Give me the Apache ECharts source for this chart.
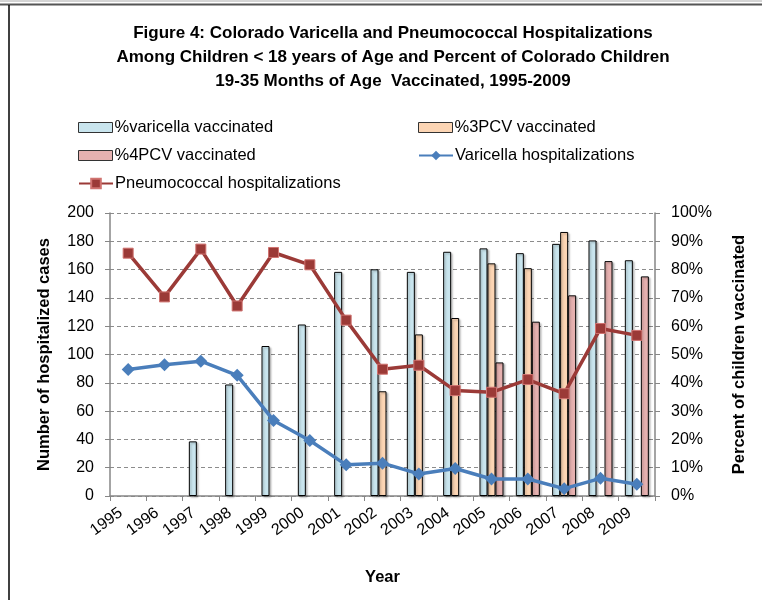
<!DOCTYPE html>
<html>
<head>
<meta charset="utf-8">
<script src="https://cdn.jsdelivr.net/npm/echarts@6/dist/echarts.min.js"></script>
<style>
  html, body { margin: 0; padding: 0; background: #fff; }
  #main { width: 762px; height: 600px; }
</style>
</head>
<body>
<div id="main"></div>
<script>
const years = ['1995', '1996', '1997', '1998', '1999', '2000', '2001', '2002',
  '2003', '2004', '2005', '2006', '2007', '2008', '2009']
// percent vaccinated (right axis)
const varicellaVacc = [null, null, 19.3, 39.4, 53, 60.6, 79.2, 80.1, 79.2, 86.3, 87.5, 85.8, 89.1, 90.3, 83.3]
const pcv3Vacc = [null, null, null, null, null, null, null, 37, 57.1, 62.9, 82.2, 80.5, 93.3, null, null]
const pcv4Vacc = [null, null, null, null, null, null, null, null, null, null, 47.2, 61.6, 70.9, 83, 77.6]
// hospitalized cases (left axis)
const varicellaHosp = [89.4, 92.7, 95.3, 85.3, 53.4, 39.2, 22, 23.2, 15.6, 19.4, 12, 12, 5.2, 12.5, 8.3]
const pneumoHosp = [171.6, 140.7, 174.5, 134.3, 172.1, 163.4, 124.3, 89.6, 92.4, 74.5, 73.3, 82.3, 72.3, 118.4, 113.5]

const font = 'Liberation Sans'
const axisGray = '#868686'

const chart = echarts.init(document.getElementById('main'))

// 一个图例一个组件，好放位置
function legendAt(name, left, top, line) {
  const lg = {
    data: [name],
    left: left,
    top: top,
    itemWidth: 34,
    itemHeight: line ? 12 : 10,
    itemGap: 0,
    padding: 0,
    textStyle: { fontFamily: font, fontSize: 16.5, color: '#000', padding: [0, 0, 0, -3] },
    selectedMode: false
  }
  if (!line) {
    lg.data = [{ name: name, icon: 'rect' }]
    lg.itemStyle = { borderWidth: 1, borderColor: '#333', shadowBlur: 0, shadowOffsetX: 0, shadowOffsetY: 0 }
  }
  return lg
}

function barStyle(fill) {
  return {
    color: fill,
    borderColor: '#000',
    borderWidth: 1,
    shadowColor: 'rgba(0,0,0,0.25)',
    shadowOffsetX: 1.5,
    shadowOffsetY: 1.5,
    shadowBlur: 2
  }
}

const option = {
  animation: false,
  textStyle: { fontFamily: font },
  title: {
    text: 'Figure 4: Colorado Varicella and Pneumococcal Hospitalizations\nAmong Children < 18 years of Age and Percent of Colorado Children\n19-35 Months of Age  Vaccinated, 1995-2009',
    left: 388,
    top: 16,
    textAlign: 'center',
    textStyle: { fontFamily: font, fontSize: 17, fontWeight: 'bold', lineHeight: 24, color: '#000' }
  },
  legend: [
    legendAt('%varicella vaccinated', 78, 119, false),
    legendAt('%3PCV vaccinated', 418, 119, false),
    legendAt('%4PCV vaccinated', 78, 147, false),
    legendAt('Varicella hospitalizations', 418, 147, true),
    legendAt('Pneumococcal hospitalizations', 78, 175, true)
  ],
  grid: { left: 110, right: 107, top: 213, bottom: 104 },
  xAxis: {
    type: 'category',
    data: years,
    name: 'Year',
    nameLocation: 'middle',
    nameGap: 73,
    nameTextStyle: { fontFamily: font, fontSize: 16.5, fontWeight: 'bold', color: '#000' },
    axisLine: { lineStyle: { color: axisGray, width: 1.5 } },
    axisTick: { show: true, interval: 0, length: 5, lineStyle: { color: axisGray } },
    axisLabel: { interval: 0, rotate: 36, fontSize: 16, color: '#000', margin: 10, padding: [0, 9, 0, 0], fontFamily: font }
  },
  yAxis: [
    {
      type: 'value',
      min: 0,
      max: 200,
      interval: 20,
      name: 'Number of hospitalized cases',
      nameLocation: 'middle',
      nameGap: 57,
      nameTextStyle: { fontFamily: font, fontSize: 16.5, fontWeight: 'bold', color: '#000' },
      axisLine: { show: true, lineStyle: { color: axisGray, width: 1.5 } },
      axisTick: { show: true, length: 5, lineStyle: { color: axisGray } },
      axisLabel: { fontSize: 16, color: '#000', margin: 16, fontFamily: font },
      splitLine: { lineStyle: { color: '#8c8c8c', type: [4, 3], width: 1 } }
    },
    {
      type: 'value',
      min: 0,
      max: 100,
      interval: 10,
      name: 'Percent of children vaccinated',
      nameLocation: 'middle',
      nameGap: 76,
      nameRotate: 90,
      nameTextStyle: { fontFamily: font, fontSize: 16.5, fontWeight: 'bold', color: '#000' },
      axisLine: { show: true, lineStyle: { color: axisGray, width: 1.5 } },
      axisTick: { show: true, length: 5, lineStyle: { color: axisGray } },
      axisLabel: { fontSize: 16, color: '#000', margin: 16, fontFamily: font, formatter: '{value}%' },
      splitLine: { show: false }
    }
  ],
  series: [
    {
      name: '%varicella vaccinated',
      type: 'bar',
      yAxisIndex: 1,
      barWidth: 8,
      barGap: '0%',
      data: varicellaVacc,
      itemStyle: barStyle('#c9e5ee')
    },
    {
      name: '%3PCV vaccinated',
      type: 'bar',
      yAxisIndex: 1,
      barWidth: 8,
      barGap: '0%',
      data: pcv3Vacc,
      itemStyle: barStyle('#fcd5b4')
    },
    {
      name: '%4PCV vaccinated',
      type: 'bar',
      yAxisIndex: 1,
      barWidth: 8,
      barGap: '0%',
      data: pcv4Vacc,
      itemStyle: barStyle('#e6b1b0')
    },
    {
      name: 'Varicella hospitalizations',
      type: 'line',
      yAxisIndex: 0,
      data: varicellaHosp,
      symbol: 'diamond',
      symbolSize: 13,
      lineStyle: { color: '#4a7ebb', width: 3.5 },
      itemStyle: { color: '#4a7ebb' }
    },
    {
      name: 'Pneumococcal hospitalizations',
      type: 'line',
      yAxisIndex: 0,
      data: pneumoHosp,
      symbol: 'rect',
      symbolSize: 10,
      lineStyle: { color: '#9b3a37', width: 3.5 },
      itemStyle: { color: '#9b3a37', borderColor: '#d07370', borderWidth: 1 }
    }
  ],
  graphic: [
    { type: 'line', shape: { x1: 0, y1: 1, x2: 762, y2: 1 }, style: { stroke: '#aaa', lineWidth: 1 } },
    { type: 'line', shape: { x1: 0, y1: 4.5, x2: 762, y2: 4.5 }, style: { stroke: '#555', lineWidth: 2 } },
    { type: 'line', shape: { x1: 9, y1: 5, x2: 9, y2: 600 }, style: { stroke: '#000', lineWidth: 1.5 } }
  ]
}

chart.setOption(option)
</script>
</body>
</html>
